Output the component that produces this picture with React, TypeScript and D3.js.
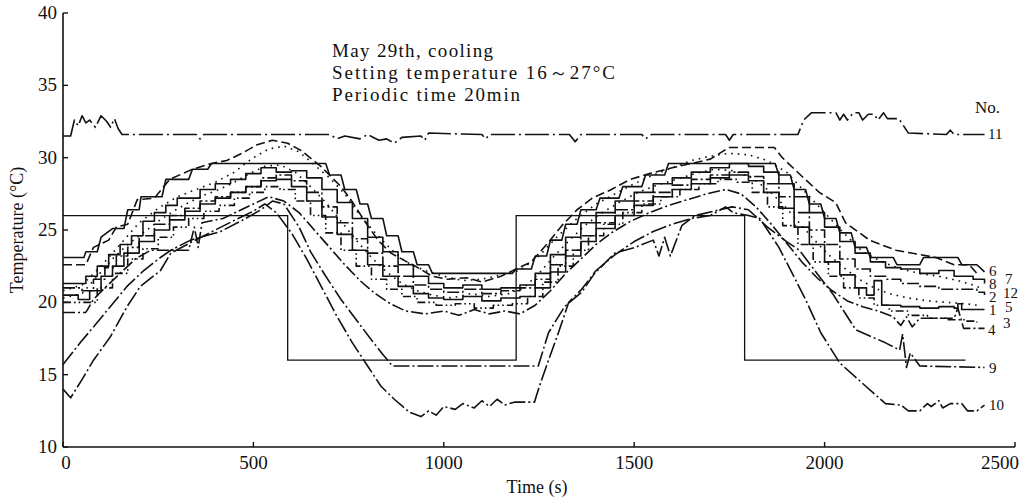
import React from "react";
import * as d3 from "d3";

type P = [number, number];

const xTicks = [0, 500, 1000, 1500, 2000, 2500];
const yTicks = [10, 15, 20, 25, 30, 35, 40];

const settingTimes = [0, 590, 590, 1190, 1190, 1790, 1790, 2370];
const settingValues = [26, 26, 16, 16, 26, 26, 16, 16];

const s1: P[] = [[0,20.5],[40,20.2],[70,20.8],[100,21.8],[130,22.5],[160,23.4],[200,24.2],[240,25.0],[280,25.7],[320,26.3],[360,26.8],[400,27.2],[440,27.6],[480,28.0],[520,28.4],[560,28.5],[600,28.0],[640,27.0],[680,25.9],[720,24.7],[760,23.6],[800,22.6],[840,21.8],[880,21.1],[920,20.6],[960,20.3],[1000,20.2],[1050,20.4],[1100,20.1],[1150,20.3],[1200,20.4],[1240,21.0],[1280,22.1],[1320,23.2],[1360,24.2],[1400,25.1],[1450,26.0],[1500,26.7],[1550,27.3],[1600,27.8],[1650,28.2],[1700,28.6],[1750,28.8],[1800,28.4],[1840,27.6],[1880,26.5],[1920,25.2],[1960,24.0],[2000,22.8],[2040,21.9],[2080,21.0],[2110,20.5],[2130,21.5],[2150,19.8],[2200,19.7],[2250,19.6],[2300,19.7],[2340,19.6],[2350,19.9],[2360,19.5],[2420,19.5]];
const s2: P[] = [[0,21.0],[50,20.8],[80,21.6],[110,22.4],[140,23.2],[170,23.8],[200,24.6],[240,25.4],[280,26.0],[320,26.5],[360,27.0],[400,27.3],[440,27.6],[480,28.0],[520,28.6],[560,28.8],[600,28.4],[640,27.6],[680,26.6],[720,25.5],[760,24.4],[800,23.4],[840,22.5],[880,21.8],[920,21.2],[960,20.9],[1000,20.7],[1050,20.9],[1100,20.6],[1150,20.8],[1200,21.0],[1240,21.6],[1280,22.6],[1320,23.6],[1360,24.6],[1400,25.5],[1450,26.4],[1500,27.0],[1550,27.6],[1600,28.1],[1650,28.5],[1700,28.8],[1750,29.0],[1800,28.7],[1840,28.2],[1880,27.3],[1920,26.2],[1960,25.0],[2000,24.0],[2040,23.0],[2080,22.3],[2120,21.8],[2160,21.6],[2200,21.3],[2250,21.1],[2300,20.9],[2350,20.9],[2400,20.7],[2420,20.5]];
const s3: P[] = [[0,20.0],[50,20.0],[90,21.0],[130,22.0],[170,23.0],[210,23.7],[250,24.5],[290,25.2],[330,25.8],[370,26.3],[410,26.7],[450,27.2],[490,27.6],[530,28.0],[570,27.8],[610,27.0],[650,26.0],[690,24.8],[730,23.6],[770,22.5],[810,21.6],[850,20.9],[890,20.4],[930,20.0],[980,19.8],[1030,19.9],[1080,19.6],[1130,19.8],[1180,19.9],[1220,20.4],[1260,21.4],[1300,22.5],[1340,23.6],[1380,24.6],[1420,25.4],[1470,26.2],[1520,26.8],[1570,27.3],[1620,27.8],[1670,28.2],[1720,28.5],[1770,28.3],[1810,27.6],[1850,26.6],[1890,25.3],[1930,24.0],[1970,22.8],[2010,21.8],[2050,21.0],[2090,20.3],[2130,19.8],[2170,19.4],[2220,19.1],[2270,18.9],[2320,18.8],[2370,18.7],[2400,18.6]];
const s4: P[] = [[0,19.3],[60,19.3],[80,20.2],[110,21.0],[150,22.0],[190,23.0],[230,23.6],[330,23.6],[345,25.2],[355,23.8],[365,25.5],[420,25.8],[460,26.3],[500,26.8],[540,27.3],[580,27.0],[620,26.2],[660,25.0],[700,23.8],[740,22.6],[780,21.5],[820,20.6],[860,19.9],[900,19.4],[950,19.2],[1000,19.4],[1040,19.1],[1080,19.5],[1120,19.2],[1160,19.4],[1200,19.2],[1240,19.8],[1280,20.8],[1320,22.0],[1360,23.0],[1400,24.0],[1440,24.8],[1490,25.6],[1540,26.2],[1590,26.7],[1640,27.1],[1690,27.5],[1740,27.8],[1780,27.5],[1820,26.6],[1860,25.4],[1900,24.1],[1940,22.8],[1980,21.7],[2020,20.8],[2060,20.1],[2100,19.7],[2140,19.4],[2180,19.0],[2200,18.4],[2215,19.0],[2230,18.3],[2250,18.9],[2340,18.9],[2350,19.6],[2365,18.2],[2420,18.2]];
const s5: P[] = [[0,20.3],[50,20.6],[90,21.8],[130,23.0],[170,24.0],[210,24.8],[250,25.6],[290,26.3],[330,26.9],[370,27.4],[410,27.8],[450,28.3],[490,28.9],[530,29.4],[570,29.5],[610,29.0],[650,28.0],[690,26.9],[730,25.6],[770,24.3],[810,23.1],[850,22.1],[890,21.3],[930,20.8],[970,20.5],[1020,20.3],[1070,20.6],[1120,20.4],[1170,20.6],[1210,21.0],[1250,22.0],[1290,23.2],[1330,24.3],[1370,25.3],[1410,26.1],[1460,26.9],[1510,27.6],[1560,28.1],[1610,28.5],[1660,28.9],[1710,29.2],[1760,29.1],[1810,28.6],[1850,27.8],[1890,26.8],[1930,25.6],[1970,24.4],[2010,23.3],[2050,22.4],[2090,21.6],[2130,21.0],[2170,20.6],[2220,20.3],[2270,20.1],[2320,20.0],[2370,19.9],[2400,19.8]];
const s6: P[] = [[0,23.1],[55,23.1],[60,23.5],[90,23.5],[100,24.5],[130,25.1],[160,25.1],[170,26.4],[200,26.4],[205,27.3],[260,27.3],[270,28.5],[330,28.5],[340,29.2],[380,29.2],[390,29.6],[690,29.6],[700,28.8],[730,28.8],[740,27.8],[770,27.8],[780,26.8],[800,26.8],[810,25.8],[840,25.8],[850,24.6],[880,24.6],[890,23.5],[920,23.5],[930,22.6],[960,22.6],[970,22.0],[1180,22.0],[1190,22.3],[1230,22.3],[1240,23.2],[1270,23.2],[1280,24.3],[1310,24.3],[1320,25.4],[1350,25.4],[1360,26.4],[1400,26.4],[1410,27.2],[1460,27.2],[1470,28.0],[1520,28.0],[1530,28.8],[1580,28.8],[1590,29.6],[1870,29.6],[1880,28.8],[1910,28.8],[1920,27.8],[1950,27.8],[1960,26.8],[1990,26.8],[2000,25.8],[2030,25.8],[2040,24.8],[2070,24.8],[2080,23.8],[2110,23.8],[2120,23.1],[2180,23.1],[2190,22.6],[2250,22.6],[2260,23.1],[2350,23.1],[2360,22.6],[2400,22.6],[2420,22.1]];
const s7: P[] = [[0,22.6],[60,22.6],[80,23.8],[120,24.3],[140,25.2],[170,25.4],[195,27.1],[240,27.2],[280,28.5],[340,29.2],[390,29.6],[430,29.8],[470,30.3],[510,30.9],[550,31.2],[590,31.0],[625,30.5],[677,29.4],[730,28.0],[756,27.1],[790,25.7],[827,24.3],[861,23.4],[896,22.9],[932,22.4],[970,21.8],[1010,21.6],[1060,21.7],[1100,21.4],[1150,21.8],[1190,22.3],[1230,22.8],[1270,24.0],[1310,25.3],[1350,26.4],[1390,27.2],[1440,27.8],[1490,28.5],[1540,28.9],[1600,29.3],[1650,29.6],[1700,29.9],[1749,30.7],[1868,30.7],[1889,30.0],[1941,28.7],[1986,27.6],[2029,26.9],[2055,25.5],[2118,24.3],[2187,23.6],[2292,23.1],[2340,22.6],[2380,22.6],[2400,22.0]];
const s8: P[] = [[0,21.3],[40,21.3],[60,21.8],[90,22.5],[120,23.3],[150,24.0],[180,24.6],[210,25.6],[240,26.2],[270,26.7],[300,27.2],[330,27.2],[360,27.8],[400,28.2],[440,28.5],[480,28.9],[520,29.3],[560,29.0],[600,29.1],[640,28.6],[680,27.8],[720,26.9],[760,25.8],[800,24.5],[840,23.5],[880,22.6],[920,21.8],[960,21.3],[1000,21.0],[1050,21.2],[1100,20.9],[1150,21.0],[1200,21.2],[1240,22.0],[1280,23.3],[1320,24.5],[1360,25.5],[1400,26.2],[1450,27.0],[1500,27.6],[1550,28.2],[1600,28.6],[1650,29.0],[1700,29.3],[1750,29.6],[1800,29.4],[1840,29.0],[1880,28.2],[1920,27.3],[1960,26.2],[2000,25.2],[2040,24.2],[2080,23.4],[2120,22.8],[2160,22.4],[2200,22.3],[2250,22.0],[2300,22.2],[2340,21.8],[2390,21.6],[2420,21.3]];
const s9: P[] = [[0,15.7],[45,17.2],[80,18.3],[124,19.7],[168,21.1],[212,22.2],[256,23.1],[283,23.6],[335,24.3],[414,24.9],[466,25.6],[520,26.4],[550,27.0],[580,26.8],[620,25.2],[650,23.5],[690,21.8],[730,20.2],[770,18.8],[810,17.4],[840,16.4],[865,15.6],[1248,15.6],[1275,17.9],[1317,19.7],[1362,20.7],[1396,22.0],[1449,23.4],[1502,23.8],[1550,24.3],[1565,23.2],[1580,24.5],[1595,23.2],[1625,25.3],[1660,26.0],[1757,26.6],[1800,26.4],[1850,25.2],[1900,24.2],[1934,23.6],[1980,22.0],[2021,20.6],[2082,18.1],[2160,17.2],[2197,16.7],[2205,17.8],[2215,15.5],[2225,16.5],[2250,15.6],[2420,15.5]];
const s10: P[] = [[0,14.0],[20,13.4],[53,14.8],[80,16.0],[124,17.6],[168,19.7],[203,21.1],[256,22.2],[283,23.4],[340,24.2],[400,25.0],[460,25.8],[500,26.3],[530,26.8],[560,26.2],[600,24.8],[640,23.0],[680,21.0],[720,19.0],[760,17.2],[800,15.6],[835,14.2],[870,13.3],[910,12.4],[940,12.1],[960,12.5],[980,12.2],[1000,12.8],[1030,12.6],[1050,13.0],[1080,12.7],[1100,13.2],[1120,12.8],[1140,13.3],[1160,12.9],[1185,13.1],[1238,13.1],[1251,14.2],[1275,16.0],[1301,17.9],[1328,20.0],[1362,20.9],[1400,22.2],[1450,23.3],[1500,24.2],[1550,24.9],[1600,25.4],[1650,25.8],[1700,26.0],[1740,26.6],[1760,26.2],[1800,26.0],[1830,25.8],[1880,23.8],[1950,20.2],[1990,17.9],[2040,15.8],[2108,14.2],[2160,13.0],[2200,12.9],[2220,12.5],[2250,12.5],[2270,13.0],[2280,12.8],[2300,13.2],[2310,12.7],[2330,13.0],[2360,13.0],[2375,12.5],[2400,12.5],[2420,12.9]];
const s11: P[] = [[0,31.5],[20,31.5],[30,32.6],[40,32.2],[50,32.9],[60,32.4],[70,32.6],[85,32.1],[100,32.9],[115,32.5],[125,32.1],[135,32.7],[145,32.0],[155,31.6],[350,31.6],[360,31.3],[370,31.6],[700,31.6],[720,31.3],[740,31.5],[780,31.3],[800,31.6],[815,31.4],[830,31.2],[850,31.3],[870,31.0],[890,31.4],[940,31.5],[950,31.2],[960,31.7],[1100,31.6],[1110,31.3],[1120,31.6],[1330,31.6],[1345,31.1],[1360,31.6],[1520,31.6],[1530,31.3],[1545,31.6],[1740,31.6],[1750,31.2],[1760,31.6],[1930,31.6],[1945,32.6],[1965,33.1],[2030,33.1],[2040,32.6],[2050,33.0],[2060,32.6],[2075,33.1],[2090,33.1],[2100,32.6],[2115,33.0],[2130,33.0],[2140,32.6],[2155,33.1],[2165,32.7],[2195,32.7],[2220,31.7],[2320,31.6],[2330,31.9],[2340,31.6],[2420,31.6]];
const s12: P[] = [[0,20.8],[50,21.2],[100,22.5],[150,24.0],[200,25.5],[250,26.5],[300,27.3],[350,27.8],[400,28.3],[450,29.0],[500,30.0],[540,30.6],[580,30.8],[620,30.4],[660,29.5],[700,28.6],[740,27.5],[780,26.0],[820,24.8],[860,23.7],[900,22.8],[950,22.2],[1000,21.8],[1050,21.5],[1100,21.6],[1150,21.9],[1200,22.2],[1250,23.2],[1300,24.6],[1350,25.8],[1400,26.8],[1450,27.5],[1500,28.2],[1550,28.8],[1600,29.3],[1650,29.8],[1700,30.1],[1750,30.3],[1800,30.2],[1850,29.8],[1900,29.0],[1950,27.6],[2000,26.2],[2050,24.8],[2100,23.5],[2150,22.8],[2200,22.3],[2250,22.0],[2300,21.8],[2350,21.5],[2390,21.2],[2410,21.0]];

const SOLID = "";
const DASHED = "9 4";
const DASHDOT = "12 3 2 3";
const DOTTED = "1.6 5";
const DASHDOTDOT = "8 3 1.6 3 1.6 3";
const LONGDASHDOT = "16 3 2 3";
const VLONGDASHDOT = "24 4 2 4";

const seriesList: { data: P[]; dash: string; step: boolean }[] = [
  { data: s1, dash: SOLID, step: true },
  { data: s2, dash: DASHDOT, step: true },
  { data: s3, dash: DASHDOTDOT, step: true },
  { data: s4, dash: DASHDOT, step: false },
  { data: s5, dash: DOTTED, step: false },
  { data: s6, dash: SOLID, step: false },
  { data: s7, dash: DASHED, step: false },
  { data: s8, dash: SOLID, step: true },
  { data: s9, dash: LONGDASHDOT, step: false },
  { data: s10, dash: LONGDASHDOT, step: false },
  { data: s11, dash: VLONGDASHDOT, step: false },
  { data: s12, dash: DOTTED, step: false },
];

const endLabels: { text: string; x: number; y: number }[] = [
  { text: "11", x: 988, y: 139 },
  { text: "6", x: 989, y: 276 },
  { text: "8", x: 989, y: 289 },
  { text: "7", x: 1005, y: 284 },
  { text: "2", x: 989, y: 302 },
  { text: "12", x: 1003, y: 298 },
  { text: "1", x: 989, y: 315 },
  { text: "5", x: 1005, y: 312 },
  { text: "4", x: 988, y: 335 },
  { text: "3", x: 1003, y: 328 },
  { text: "9", x: 989, y: 373 },
  { text: "10", x: 989, y: 410 },
];

const W = 1030;
const H = 501;
const FONT = "'Liberation Serif', 'Times New Roman', serif";

export default function App() {
  const x = d3.scaleLinear().domain([0, 2500]).range([63, 1015]);
  const y = d3.scaleLinear().domain([10, 40]).range([447, 13]);
  const line = d3
    .line<P>()
    .x((d) => x(d[0]))
    .y((d) => y(d[1]));
  const stepLine = d3
    .line<P>()
    .x((d) => x(d[0]))
    .y((d) => y(d[1]))
    .curve(d3.curveStepAfter);
  const settingPts: P[] = settingTimes.map((t, i) => [t, settingValues[i]]);

  return (
    <svg
      width={W}
      height={H}
      style={{ position: "absolute", left: 0, top: 0, background: "#fff" }}
      fontFamily={FONT}
    >
      <rect x={0} y={0} width={W} height={H} fill="#fff" />
      <line x1={x(0)} y1={y(40)} x2={x(0)} y2={y(10)} stroke="#111" strokeWidth={1.6} />
      <line x1={x(0)} y1={y(10)} x2={x(2500)} y2={y(10)} stroke="#111" strokeWidth={1.6} />
      {yTicks.map((t) => (
        <g key={"y" + t}>
          <line x1={x(0)} x2={x(0) + 5} y1={y(t)} y2={y(t)} stroke="#111" strokeWidth={1.4} />
          <text x={57} y={y(t) + 6} textAnchor="end" fontSize={19} fill="#111">
            {t}
          </text>
        </g>
      ))}
      {xTicks.map((t) => (
        <g key={"x" + t}>
          <line x1={x(t)} x2={x(t)} y1={y(10)} y2={y(10) - 5} stroke="#111" strokeWidth={1.4} />
          <text
            x={t === 2500 ? x(t) + 4 : t === 0 ? x(t) + 3 : x(t)}
            y={469}
            textAnchor={t === 2500 ? "end" : "middle"}
            fontSize={19}
            fill="#111"
          >
            {t}
          </text>
        </g>
      ))}
      <text x={537} y={493} textAnchor="middle" fontSize={18} fill="#111">
        Time (s)
      </text>
      <text
        transform={`translate(23, ${y(25)}) rotate(-90)`}
        textAnchor="middle"
        fontSize={18}
        fill="#111"
      >
        Temperature (°C)
      </text>

      <text x={332} y={57} fontSize={19} fill="#111" textLength={161} lengthAdjust="spacing">
        May 29th, cooling
      </text>
      <text x={332} y={79} fontSize={19} fill="#111" textLength={283} lengthAdjust="spacing">
        Setting temperature 16～27°C
      </text>
      <text x={332} y={101} fontSize={19} fill="#111" textLength={188} lengthAdjust="spacing">
        Periodic time 20min
      </text>
      <text x={975} y={113} fontSize={17} fill="#111">
        No.
      </text>

      <path d={line(settingPts) || ""} fill="none" stroke="#111" strokeWidth={1.3} />

      {seriesList.map((s, i) => (
        <path
          key={i}
          d={(s.step ? stepLine(s.data) : line(s.data)) || ""}
          fill="none"
          stroke="#111"
          strokeWidth={1.6}
          strokeDasharray={s.dash || undefined}
          strokeLinejoin="round"
        />
      ))}

      {endLabels.map((l) => (
        <text key={l.text} x={l.x} y={l.y} fontSize={15} fill="#111">
          {l.text}
        </text>
      ))}
    </svg>
  );
}
